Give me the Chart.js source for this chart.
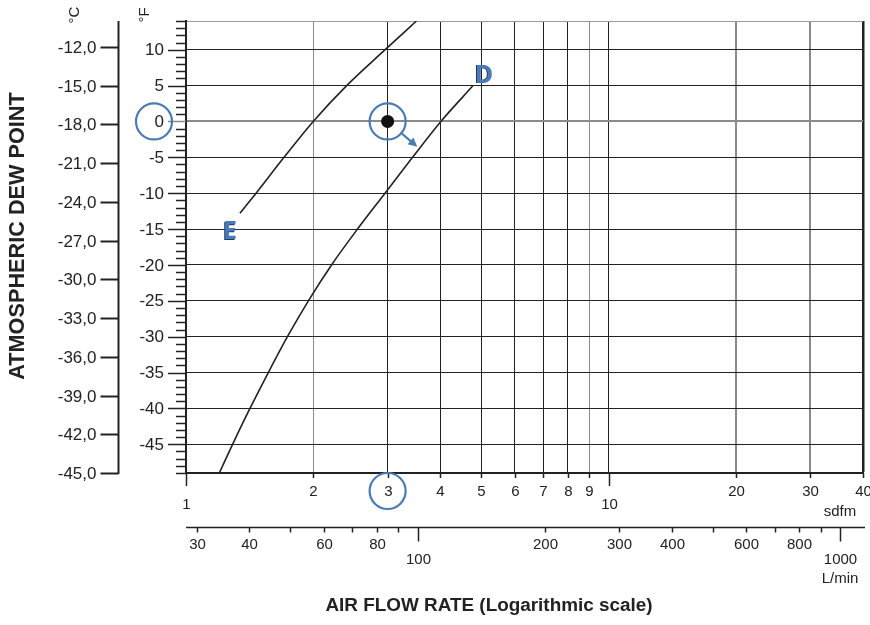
<!DOCTYPE html>
<html>
<head>
<meta charset="utf-8">
<script src="https://cdn.jsdelivr.net/npm/chart.js@4.4.0/dist/chart.umd.min.js"></script>
<style>
  html, body { margin: 0; padding: 0; background: #fff; overflow: hidden; }
  #chart { display: block; }
</style>
</head>
<body>
<canvas id="chart" width="870" height="625"></canvas>
<script>
// Dew point curves: air flow (scfm) vs dew point (°F)
const curveE_scfm = [1.342, 1.465, 1.706, 2.0, 2.40, 2.96, 3.51];
const curveE_degF = [-12.8, -10, -5, 0, 5, 10, 14];
const curveD_scfm = [1.199, 1.289, 1.417, 1.566, 1.738, 1.948, 2.21, 2.546, 2.958, 3.436, 4.01, 4.78];
const curveD_degF = [-49, -45, -40, -35, -30, -25, -20, -15, -10, -5, 0, 5];
const markPoint = { x: 3, y: 0 };

// Axes
const scfmTicks = [1, 2, 3, 4, 5, 6, 7, 8, 9, 10, 20, 30, 40];
const scfmLow = [1, 10];
const lpmTicks = [30, 40, 50, 60, 70, 80, 90, 100, 200, 300, 400, 500, 600, 700, 800, 900, 1000];
const lpmLabels = [30, 40, 60, 80, 100, 200, 300, 400, 600, 800, 1000];
const lpmLow = [100, 1000];
const fMajor = [-45, -40, -35, -30, -25, -20, -15, -10, -5, 0, 5, 10];
const cTicks = [-12, -15, -18, -21, -24, -27, -30, -33, -36, -39, -42, -45];
const F_MIN = -49, F_MAX = 14;
const X_MIN = 1, X_MAX = 40;
const LPM_PER_SCFM = 28.3168;

const BLUE = '#4a7bb7';
const INK = '#222';
const FONT = "'Liberation Sans', Arial, sans-serif";

function pts(xs, ys) { return xs.map((v, i) => ({ x: v, y: ys[i] })); }

function line(ctx, x1, y1, x2, y2) {
  ctx.beginPath(); ctx.moveTo(x1, y1); ctx.lineTo(x2, y2); ctx.stroke();
}

function fitFont(ctx, text, weight, family, width) {
  ctx.font = weight + ' 20px ' + family;
  const w = ctx.measureText(text).width;
  return weight + ' ' + (20 * width / w).toFixed(1) + 'px ' + family;
}

// Custom axes, labels and callouts
const decorations = {
  id: 'decorations',
  afterDraw(chart) {
    const { ctx, chartArea: a, scales: { x, y } } = chart;
    ctx.save();
    ctx.strokeStyle = INK;
    ctx.fillStyle = INK;

    // °F axis ticks
    ctx.lineWidth = 1.5;
    for (let f = F_MIN; f <= F_MAX; f++) {
      const py = Math.round(y.getPixelForValue(f)) + 0.5;
      const len = fMajor.includes(f) ? 18 : 10;
      ctx.strokeStyle = f === 0 ? '#8a8a8a' : INK;
      line(ctx, a.left - len, py, a.left, py);
    }
    ctx.strokeStyle = INK;
    ctx.font = '17px ' + FONT;
    ctx.textAlign = 'right';
    ctx.textBaseline = 'middle';
    fMajor.forEach(f => ctx.fillText(String(f), a.left - 22, y.getPixelForValue(f) + 1));

    // °C axis
    const cx = 118.5;
    ctx.lineWidth = 2;
    line(ctx, cx, a.top, cx, a.bottom + 1);
    cTicks.forEach(c => {
      const py = Math.round(y.getPixelForValue(c * 1.8 + 32)) + 0.5;
      line(ctx, cx - 18, py, cx, py);
      ctx.fillText(c.toFixed(1).replace('.', ','), cx - 22, py + 1);
    });

    // unit labels
    ctx.font = '15px ' + FONT;
    ctx.textAlign = 'center';
    [['°C', 75], ['°F', 145]].forEach(([t, px]) => {
      ctx.save(); ctx.translate(px, 15); ctx.rotate(-Math.PI / 2);
      ctx.fillText(t, 0, 0); ctx.restore();
    });

    // scfm axis ticks + labels
    ctx.lineWidth = 1.5;
    ctx.font = '15px ' + FONT;
    ctx.textAlign = 'center';
    scfmTicks.forEach(v => {
      const px = Math.round(x.getPixelForValue(v)) + 0.5;
      const low = scfmLow.includes(v);
      line(ctx, px, a.bottom, px, a.bottom + (low ? 13 : 5));
      ctx.fillText(String(v), px, a.bottom + (low ? 32 : 19));
    });
    ctx.fillText('sdfm', 840, a.bottom + 39);

    // L/min axis
    const ly = a.bottom + 54.5;
    line(ctx, a.left, ly, a.right + 2, ly);
    lpmTicks.forEach(v => {
      const px = Math.round(x.getPixelForValue(v / LPM_PER_SCFM)) + 0.5;
      const low = lpmLow.includes(v);
      line(ctx, px, ly, px, ly + (low ? 14 : 5));
      if (lpmLabels.includes(v)) ctx.fillText(String(v), px, ly + (low ? 32 : 17));
    });
    ctx.fillText('L/min', 840, ly + 51);

    // axis titles
    ctx.textBaseline = 'middle';
    ctx.font = fitFont(ctx, 'AIR FLOW RATE (Logarithmic scale)', 'bold', FONT, 328);
    ctx.fillText('AIR FLOW RATE (Logarithmic scale)', 489, 606);
    ctx.save();
    ctx.translate(18, 236); ctx.rotate(-Math.PI / 2);
    ctx.font = fitFont(ctx, 'ATMOSPHERIC DEW POINT', 'bold', FONT, 288);
    ctx.fillText('ATMOSPHERIC DEW POINT', 0, 0);
    ctx.restore();

    // blue callouts
    ctx.strokeStyle = BLUE;
    ctx.fillStyle = BLUE;
    ctx.lineWidth = 2.2;
    const y0 = y.getPixelForValue(0);
    ctx.beginPath(); ctx.arc(154, y0, 18, 0, Math.PI * 2); ctx.stroke();
    const x3 = x.getPixelForValue(3);
    ctx.beginPath(); ctx.arc(x3, a.bottom + 18, 18, 0, Math.PI * 2); ctx.stroke();

    // arrow from the marked point to curve D
    const px = x.getPixelForValue(markPoint.x), py = y.getPixelForValue(markPoint.y);
    const ang = 40.5 * Math.PI / 180, dx = Math.cos(ang), dy = Math.sin(ang);
    const sx = px + dx * 17, sy = py + dy * 17, tx = px + dx * 39, ty = py + dy * 39;
    line(ctx, sx, sy, tx - dx * 6, ty - dy * 6);
    ctx.beginPath();
    ctx.moveTo(tx, ty);
    ctx.lineTo(tx - dx * 9 - dy * 4.5, ty - dy * 9 + dx * 4.5);
    ctx.lineTo(tx - dx * 9 + dy * 4.5, ty - dy * 9 - dx * 4.5);
    ctx.closePath(); ctx.fill();

    // curve letters
    ctx.font = "bold 25px 'Open Sans', " + FONT;
    ctx.textAlign = 'center';
    ctx.shadowColor = '#1f3a66'; ctx.shadowOffsetX = -1; ctx.shadowOffsetY = 0.5;
    const e0 = { x: x.getPixelForValue(curveE_scfm[0]), y: y.getPixelForValue(curveE_degF[0]) };
    ctx.fillText('E', e0.x - 10, e0.y + 19);
    const dN = curveD_scfm.length - 1;
    const d1 = { x: x.getPixelForValue(curveD_scfm[dN]), y: y.getPixelForValue(curveD_degF[dN]) };
    ctx.fillText('D', d1.x + 11, d1.y - 10);
    ctx.restore();
  }
};

const greyX = [2, 9, 20, 30];

new Chart(document.getElementById('chart'), {
  type: 'scatter',
  data: {
    datasets: [
      { data: pts(curveE_scfm, curveE_degF), showLine: true, borderColor: INK, borderWidth: 1.6,
        pointRadius: 0, cubicInterpolationMode: 'monotone' },
      { data: pts(curveD_scfm, curveD_degF), showLine: true, borderColor: INK, borderWidth: 1.6,
        pointRadius: 0, cubicInterpolationMode: 'monotone' },
      { data: [markPoint], pointRadius: 6.5, backgroundColor: '#111', borderColor: '#111', borderWidth: 0 },
      { data: [markPoint], pointRadius: 18, backgroundColor: 'rgba(0,0,0,0)', borderColor: BLUE, borderWidth: 2.2 }
    ]
  },
  options: {
    responsive: false,
    animation: false,
    layout: { autoPadding: false, padding: { left: 186, top: 21, right: 7, bottom: 152 } },
    plugins: { legend: { display: false }, tooltip: { enabled: false } },
    scales: {
      x: {
        type: 'logarithmic', min: X_MIN, max: X_MAX,
        afterBuildTicks: s => { s.ticks = scfmTicks.map(v => ({ value: v })); },
        afterFit: s => { s.height = 0; },
        ticks: { display: false },
        border: { display: true, color: INK, width: 2 },
        grid: {
          drawTicks: false,
          color: c => c.tick && greyX.includes(c.tick.value) ? '#8a8a8a' : INK,
          lineWidth: c => {
            const v = c.tick && c.tick.value;
            if (v === 40) return 2.5;
            if (v === 20 || v === 30) return 2;
            return 1;
          }
        }
      },
      y: {
        type: 'linear', min: F_MIN, max: F_MAX,
        afterBuildTicks: s => { s.ticks = fMajor.concat([F_MAX]).map(v => ({ value: v })); },
        afterFit: s => { s.width = 0; },
        ticks: { display: false },
        border: { display: true, color: INK, width: 2 },
        grid: {
          drawTicks: false,
          color: c => {
            const v = c.tick && c.tick.value;
            return v === 0 ? '#8a8a8a' : v === F_MAX ? '#9a9a9a' : INK;
          },
          lineWidth: c => (c.tick && c.tick.value === 0 ? 2 : 1)
        }
      }
    }
  },
  plugins: [decorations]
});
</script>
</body>
</html>
